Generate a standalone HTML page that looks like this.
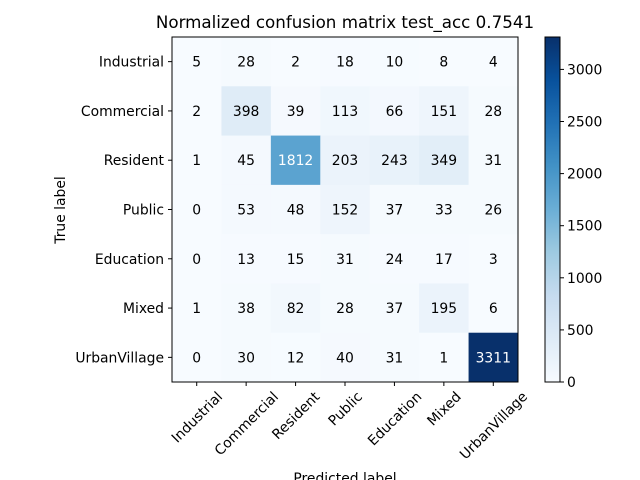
<!DOCTYPE html>
<html><head><meta charset="utf-8"><style>
body{margin:0;background:#fff;}
svg{display:block;font-family:"DejaVu Sans","Liberation Sans",sans-serif;}
</style></head><body>
<svg id="c" width="640" height="480" viewBox="0 0 640 480">
<text x="345" y="28" font-size="16.7" text-anchor="middle">Normalized confusion matrix  test_acc 0.7541</text>
<text transform="translate(65,210) rotate(-90)" font-size="13.9" text-anchor="middle">True label</text>
<text x="345" y="483" font-size="13.9" text-anchor="middle">Predicted label</text>
<g id="cells"></g>
<g id="cbar"></g>
</svg>
<script>
const labels=["Industrial","Commercial","Resident","Public","Education","Mixed","UrbanVillage"];
const row0=[5,28,2,18,10,8,4];
const row1=[2,398,39,113,66,151,28];
const row2=[1,45,1812,203,243,349,31];
const row3=[0,53,48,152,37,33,26];
const row4=[0,13,15,31,24,17,3];
const row5=[1,38,82,28,37,195,6];
const row6=[0,30,12,40,31,1,3311];
const cbTicks=[0,500,1000,1500,2000,2500,3000];
const matrix=[row0,row1,row2,row3,row4,row5,row6];
const NS="http://www.w3.org/2000/svg";
const X0=172,Y0=37,W=346,H=345,n=labels.length;
const cw=W/n,ch=H/n;
const FS=13.9;
const vmax=Math.max(...matrix.flat()),vmin=0;
const stops=["#f7fbff","#deebf7","#c6dbef","#9ecae1","#6baed6","#4292c6","#2171b5","#08519c","#08306b"];
function hex(h){return [1,3,5].map(i=>parseInt(h.substr(i,2),16));}
function blues(t){t=Math.max(0,Math.min(1,t));const p=t*8,i=Math.min(7,Math.floor(p)),f=p-i;const a=hex(stops[i]),b=hex(stops[i+1]);return "rgb("+a.map((v,k)=>Math.round(v+(b[k]-v)*f)).join(",")+")";}
function mk(tag,attrs,parent){const e=document.createElementNS(NS,tag);for(const k in attrs)e.setAttribute(k,attrs[k]);parent.appendChild(e);return e;}
const xs=j=>X0+j*cw, ys=i=>Y0+i*ch;
const g=document.getElementById("cells");
for(let i=0;i<n;i++)for(let j=0;j<n;j++){
 const v=matrix[i][j];
 const r=mk("rect",{x:xs(j),y:ys(i),width:cw+0.5,height:ch+0.5,fill:blues((v-vmin)/(vmax-vmin))},g);
 
 
 const t=mk("text",{x:xs(j)+cw/2,y:ys(i)+ch/2+5,"font-size":FS,"text-anchor":"middle",fill:v>vmax/2?"#fff":"#000"},g);
 t.textContent=v;
 
 
}
mk("rect",{x:X0,y:Y0,width:W,height:H,fill:"none",stroke:"#000","stroke-width":"1"},g);
for(let k=0;k<n;k++){
 const cx=xs(k)+cw/2,cy=ys(k)+ch/2;
 mk("line",{x1:cx,y1:Y0+H,x2:cx,y2:Y0+H+4,stroke:"#000"},g);
 mk("line",{x1:X0-4,y1:cy,x2:X0,y2:cy,stroke:"#000"},g);
 const yl=mk("text",{x:X0-8,y:cy+5,"font-size":FS,"text-anchor":"end"},g);
 yl.textContent=labels[k];
 
 
 const xl=mk("text",{"font-size":FS,"text-anchor":"middle"},g);
 xl.textContent=labels[k];
 
 
 const L=xl.getComputedTextLength();
 const bh=(L+14)*0.7071;
 const cyl=Y0+H+7+bh/2;
 xl.setAttribute("transform","translate("+cx+","+cyl+") rotate(-45)");
 xl.setAttribute("y","5");
}
const cb=document.getElementById("cbar");
const CX=545,CW=15;
const gr=mk("linearGradient",{id:"gb",x1:"0",y1:"1",x2:"0",y2:"0"},mk("defs",{},cb));
for(let s=0;s<stops.length;s++)mk("stop",{offset:s/8,"stop-color":stops[s]},gr);
const cr=mk("rect",{x:CX,y:Y0,width:CW,height:H,fill:"url(#gb)",stroke:"#000","stroke-width":"1"},cb);


cbTicks.forEach(v=>{
 const y=Y0+H-(v-vmin)/(vmax-vmin)*H;
 mk("line",{x1:CX+CW,y1:y,x2:CX+CW+4,y2:y,stroke:"#000"},cb);
 const t=mk("text",{x:CX+CW+7,y:y+5,"font-size":FS},cb);
 t.textContent=v;
 
 
});
</script>
</body></html>
